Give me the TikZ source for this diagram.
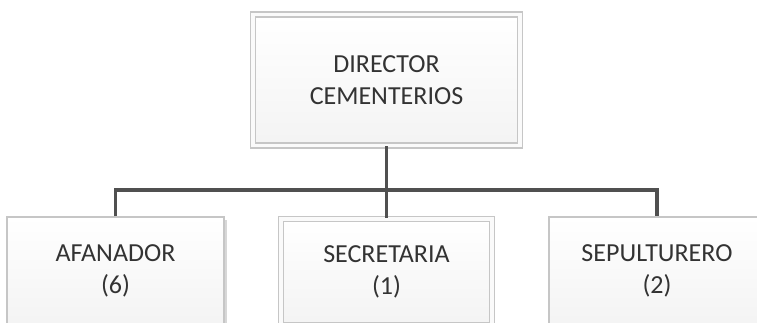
\documentclass[tikz,border=0pt]{standalone}
\usepackage{fontspec}
\setmainfont{Carlito}
\usetikzlibrary{shadows}
\definecolor{boxline}{HTML}{C6C6C6}
\definecolor{connline}{HTML}{505050}
\definecolor{txtcol}{HTML}{333333}
\begin{document}
\begin{tikzpicture}[x=1pt,y=-1pt,
  orgbox/.style={draw=boxline, line width=1.3pt, top color=white, bottom color=gray!9,
    text=txtcol, font=\fontsize{26}{32}\selectfont, align=center, inner sep=0pt,
    drop shadow={shadow xshift=2.5pt, shadow yshift=-2.5pt, fill=gray!70, opacity=0.45}},
  dblbox/.style={double=white!96!gray, double distance=3.6pt},
  connector/.style={draw=connline, line width=3.1pt}
]
\useasboundingbox (0,0) rectangle (757,322);
\clip (0,0) rectangle (757,322);
\node[orgbox, dblbox, minimum width=267pt, minimum height=131pt] (dir) at (386.5,80) {DIRECTOR\\CEMENTERIOS};
\node[orgbox, minimum width=217pt, minimum height=108pt] (afa) at (115.5,271) {AFANADOR\\(6)};
\node[orgbox, dblbox, minimum width=211pt, minimum height=106pt] (sec) at (386.5,272) {SECRETARIA\\(1)};
\node[orgbox, minimum width=216pt, minimum height=108pt] (sep) at (657,271) {SEPULTURERO\\(2)};
\coordinate (bus) at (386.5,190);
\draw[connector] (dir.south) -- (sec.north);
\draw[connector] (afa.north) -- (afa.north |- bus) -- (sep.north |- bus) -- (sep.north);
\end{tikzpicture}
\end{document}
